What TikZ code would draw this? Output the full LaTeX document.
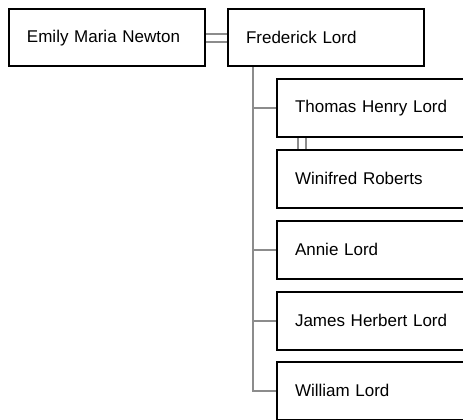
\documentclass[tikz,border=0pt]{standalone}
\usepackage{fontspec}
\setmainfont{Liberation Sans}
\usetikzlibrary{backgrounds}
\definecolor{linkgray}{RGB}{140,140,140}
\begin{document}
\begin{tikzpicture}[x=1pt,y=-1pt,
  person/.style={draw=black, line width=2pt, rectangle, anchor=north west,
    minimum width=196pt, minimum height=57.5pt, text width=160pt,
    inner xsep=18pt, align=left, outer sep=0pt,
    font=\fontsize{17}{20}\selectfont},
  link/.style={draw=linkgray, line width=2pt}]
\useasboundingbox (0,0) rectangle (463,420);
\clip (0,0) rectangle (463,420);
\node[person] (emily) at (9,9) {Emily Maria Newton};
\node[person] (fred) at (228,9) {Frederick Lord};
\node[person] (thomas) at (277,79) {Thomas Henry Lord};
\node[person] (winifred) at (277,150) {Winifred Roberts};
\node[person] (annie) at (277,221) {Annie Lord};
\node[person] (james) at (277,292) {James Herbert Lord};
\node[person] (william) at (277,362) {William Lord};
\begin{pgfonlayer}{background}
  \draw[link] ([yshift=3.9pt]emily.east) -- ([yshift=3.9pt]fred.west);
  \draw[link] ([yshift=-3.9pt]emily.east) -- ([yshift=-3.9pt]fred.west);
  \draw[link] ([xshift=21pt]thomas.south west) -- ([xshift=21pt]winifred.north west);
  \draw[link] ([xshift=29pt]thomas.south west) -- ([xshift=29pt]winifred.north west);
  \coordinate (trunk) at ([xshift=25pt]fred.south west);
  \draw[link] (trunk) |- (william.west);
  \foreach \c in {thomas,annie,james}
    \draw[link] (trunk |- \c.west) -- (\c.west);
\end{pgfonlayer}
\end{tikzpicture}
\end{document}
